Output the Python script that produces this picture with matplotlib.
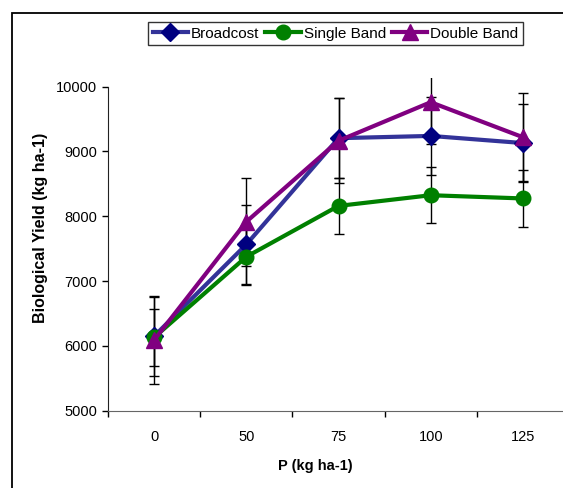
# Biological yield vs P rate for three placement methods
import matplotlib
matplotlib.use("Agg")
import matplotlib.pyplot as plt
from matplotlib.patches import Rectangle
import numpy as np

plt.rcParams['font.family'] = ['Liberation Sans', 'DejaVu Sans']

p_levels = ['0', '50', '75', '100', '125']

broadcast = [6150, 7565, 9205, 9240, 9130]
broadcast_err = [610, 606, 617, 600, 606]

single_band = [6130, 7375, 8160, 8325, 8275]
single_err = [435, 436, 435, 430, 440]

double_band = [6090, 7915, 9165, 9760, 9220]
double_err = [680, 680, 655, 646, 680]

fig = plt.figure(figsize=(5.63, 4.88), dpi=100)
ax = fig.add_axes([108 / 563, 77.3 / 488, 461 / 563, 0.6826])

x = np.arange(len(p_levels))

series = [
    ('Broadcost', broadcast, broadcast_err, '#333399', '#000080', 'D', 9),
    ('Single Band', single_band, single_err, '#008000', '#008000', 'o', 10.5),
    ('Double Band', double_band, double_err, '#800080', '#800080', '^', 12),
]

for name, vals, err, lc, mc, mk, ms in series:
    ax.errorbar(x, vals, yerr=err, fmt='none', ecolor='black', elinewidth=1,
                capsize=3.4, capthick=1, zorder=2)
    ax.plot(x, vals, color=lc, lw=3, marker=mk, markersize=ms,
            markerfacecolor=mc, markeredgecolor=mc, label=name, zorder=3)

ax.set_xlim(-0.5, 4.5)
ax.set_ylim(5000, 10140)
ax.set_yticks([5000, 6000, 7000, 8000, 9000, 10000])

ax.set_xticks(x)
ax.set_xticklabels(p_levels)
ax.set_xticks(np.arange(-0.5, 4.6, 1), minor=True)
ax.tick_params(axis='x', which='major', length=0, pad=14, labelsize=10.5)
ax.tick_params(axis='x', which='minor', length=4, width=1, direction='out')
ax.tick_params(axis='y', length=4, width=1, direction='out', pad=4, labelsize=10.5)

for s in ['top', 'right']:
    ax.spines[s].set_visible(False)
ax.spines['left'].set_bounds(5000, 10000)
ax.spines['left'].set_color('#222222')
ax.spines['bottom'].set_color('#666666')

ax.set_xlabel('P (kg ha-1)', fontsize=10.5, fontweight='bold')
ax.xaxis.label.set_va('center')
ax.xaxis.set_label_coords(0.449, -0.166)
ax.set_ylabel('Biological Yield (kg ha-1)', fontsize=11.5, fontweight='bold')
ax.yaxis.label.set_va('center')
ax.yaxis.set_label_coords(-0.147, 0.548)

leg = fig.legend(loc='center', bbox_to_anchor=(0.596, 0.931), ncol=3,
                 fontsize=11, frameon=True, fancybox=False, edgecolor='black',
                 handlelength=2.3, handletextpad=0.2, columnspacing=0.4,
                 borderpad=0.3, borderaxespad=0)
leg.get_frame().set_linewidth(1)

# outer chart border (runs off the right and bottom edges)
fig.patches.append(Rectangle((12 / 563, -0.1), 1.0, 0.1 + 1 - 13 / 488,
                             transform=fig.transFigure, fill=False,
                             lw=1.3, edgecolor='black'))

fig.savefig('out.png', dpi=100)
